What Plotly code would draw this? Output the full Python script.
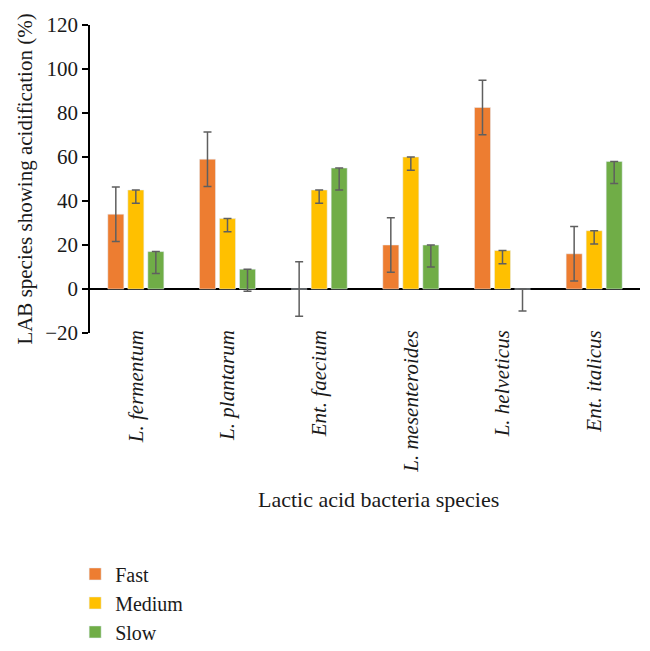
import plotly.graph_objects as go

# ---------------------------------------------------------------------------
# Data
# ---------------------------------------------------------------------------

species = [
    "L. fermentum",
    "L. plantarum",
    "Ent. faecium",
    "L. mesenteroides",
    "L. helveticus",
    "Ent. italicus",
]

fast = [34, 59, 0, 20, 82.5, 16]
fast_err = [12.4, 12.4, 12.4, 12.4, 12.4, 12.4]

medium = [45, 32, 45, 60, 17.5, 26.5]
medium_err_minus = [6, 6, 6, 6, 6, 6]

slow = [17, 9, 55, 20, 0, 58]
slow_err_minus = [10, 10, 10, 10, 10, 10]

# ---------------------------------------------------------------------------
# Style
# ---------------------------------------------------------------------------

ORANGE = "#ED7D31"
YELLOW = "#FFC000"
GREEN = "#70AD47"
ERR = "#5f5f5f"
FONT = "Liberation Serif"

fig = go.Figure()

fig.add_trace(
    go.Bar(
        x=species,
        y=fast,
        name="Fast",
        marker_color=ORANGE,
        error_y={"type": "data", "array": fast_err, "color": ERR,
                 "thickness": 1.5, "width": 4},
    )
)
fig.add_trace(
    go.Bar(
        x=species,
        y=medium,
        name="Medium",
        marker_color=YELLOW,
        error_y={"type": "data", "symmetric": False,
                 "array": [0] * len(medium), "arrayminus": medium_err_minus,
                 "color": ERR, "thickness": 1.5, "width": 4},
    )
)
fig.add_trace(
    go.Bar(
        x=species,
        y=slow,
        name="Slow",
        marker_color=GREEN,
        error_y={"type": "data", "symmetric": False,
                 "array": [0] * len(slow), "arrayminus": slow_err_minus,
                 "color": ERR, "thickness": 1.5, "width": 4},
    )
)

# the page body adds an 8px offset, so margins are trimmed by 8px top/left
fig.update_layout(
    width=650,
    height=651,
    margin={"l": 82, "r": 18, "t": 17, "b": 326, "autoexpand": False},
    paper_bgcolor="white",
    plot_bgcolor="white",
    font={"family": FONT, "size": 21, "color": "#1a1a1a"},
    barmode="group",
    bargap=0.345,
    bargroupgap=0.2,
    showlegend=True,
    legend={
        "x": -0.027,
        "y": -0.719,
        "xanchor": "left",
        "yanchor": "top",
        "font": {"family": FONT, "size": 20},
        "tracegroupgap": 0,
    },
    annotations=[
        {
            "text": "Lactic acid bacteria species",
            "xref": "paper",
            "yref": "paper",
            "x": 0.524,
            "y": -0.542,
            "xanchor": "center",
            "yanchor": "middle",
            "showarrow": False,
            "font": {"family": FONT, "size": 22},
        }
    ],
)

fig.update_xaxes(
    showline=False,
    showgrid=False,
    ticks="",
    tickangle=-90,
    ticklabelstandoff=-8,
    tickfont={"family": FONT, "size": 21, "style": "italic"},
)

fig.update_yaxes(
    range=[-20, 120],
    dtick=20,
    showgrid=False,
    showline=True,
    linecolor="black",
    linewidth=1.5,
    ticks="outside",
    ticklen=6,
    tickcolor="black",
    tickwidth=1.5,
    zeroline=True,
    zerolinecolor="black",
    zerolinewidth=1.5,
    tickfont={"family": FONT, "size": 21},
    title={"text": "LAB species showing acidification (%)",
           "font": {"family": FONT, "size": 21}, "standoff": 7},
)

fig.write_html("out.html")
